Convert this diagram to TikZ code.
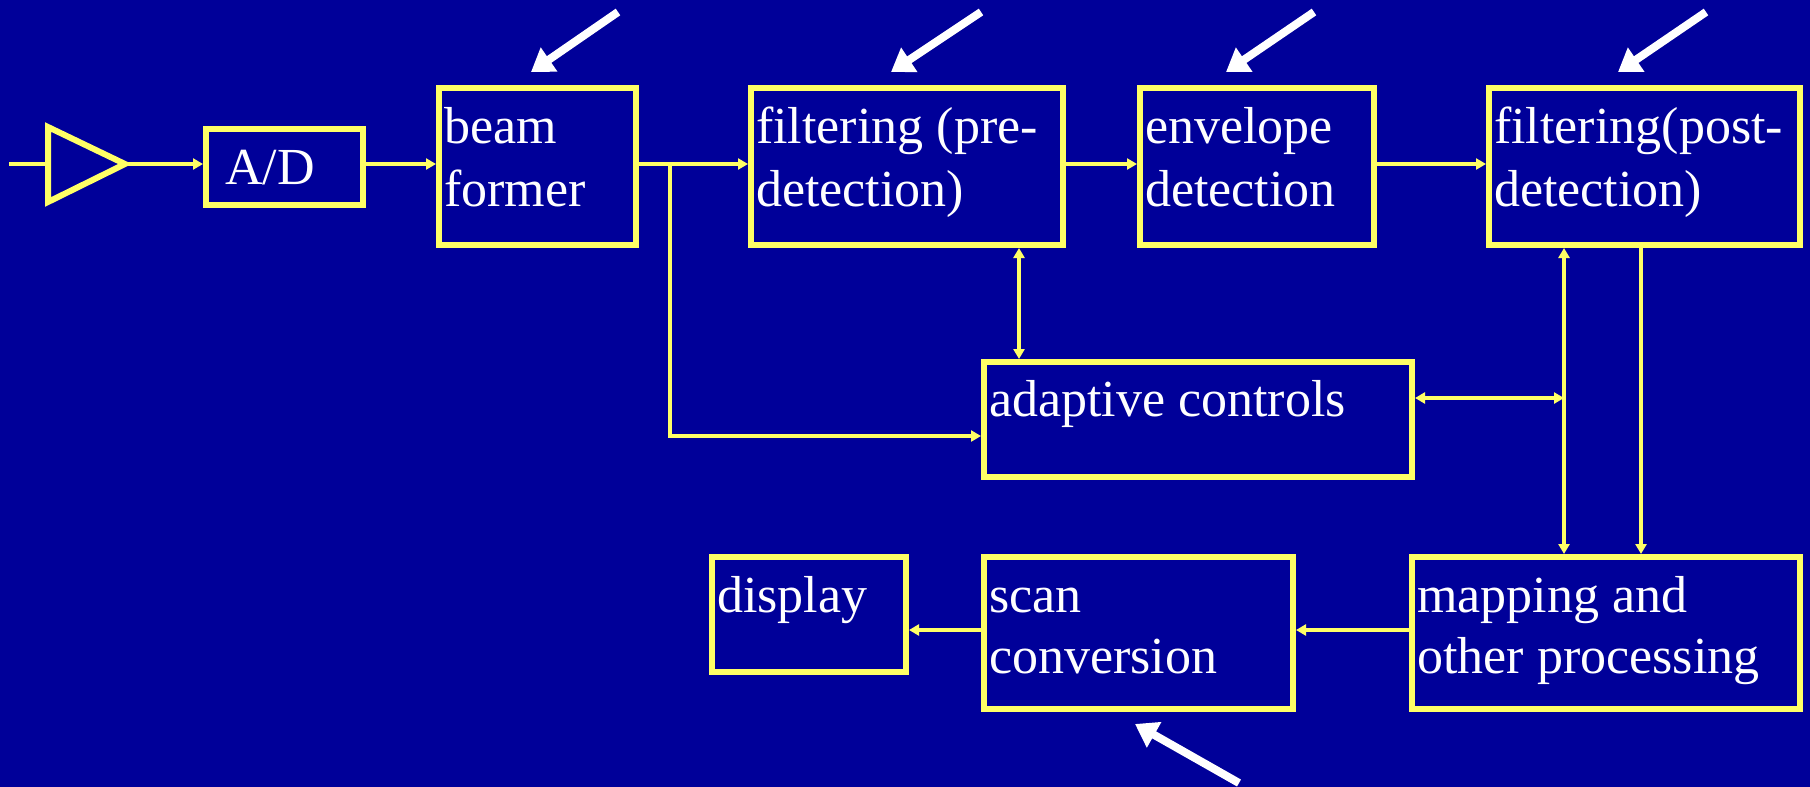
\documentclass[tikz,border=0pt]{standalone}
\usepackage{fontspec}
\setmainfont{Liberation Serif}
\usetikzlibrary{arrows.meta,calc}
\definecolor{bgblue}{RGB}{0,0,153}
\definecolor{lineyellow}{RGB}{255,255,102}
\begin{document}
\begin{tikzpicture}[x=1pt,y=-1pt,
  blk/.style={draw=lineyellow,line width=6pt,rectangle,inner sep=0pt,anchor=north west},
  lbl/.style={text=white,font=\fontsize{52}{62}\selectfont,inner sep=0pt,anchor=base west},
  wire/.style={draw=lineyellow,line width=4.5pt},
  flow/.style={wire,-{Triangle[length=10pt,width=11pt]}},
  both/.style={wire,{Triangle[length=10pt,width=11pt]}-{Triangle[length=10pt,width=11pt]}},
  pointer/.style={draw=white,line width=8pt,-{Triangle[length=22pt,width=28pt]}}]
  % background
  \fill[bgblue] (0,0) rectangle (1810,787);
  \useasboundingbox (0,0) rectangle (1810,787);

  % blocks (size = width x height)
  \newcommand{\blockat}[5]{\node[blk,minimum width=#4pt,minimum height=#5pt] (#1) at (#2,#3) {};}
  \blockat{ad}{203}{126}{157}{76}
  \blockat{beam}{436}{85}{197}{157}
  \blockat{fpre}{748}{85}{312}{157}
  \blockat{env}{1137}{85}{234}{157}
  \blockat{fpost}{1486}{85}{311}{157}
  \blockat{adapt}{981}{359}{428}{115}
  \blockat{map}{1409}{554}{388}{152}
  \blockat{scan}{981}{554}{309}{152}
  \blockat{disp}{709}{554}{194}{115}

  % labels
  \node[lbl] (tad) at ($(ad.north west)+(22,58)$) {A/D};
  \node[lbl] (tbeam1) at ($(beam.north west)+(8,58)$) {beam};
  \node[lbl] (tbeam2) at ($(beam.north west)+(8,121)$) {former};
  \node[lbl] (tfpre1) at ($(fpre.north west)+(8,58)$) {filtering (pre-};
  \node[lbl] (tfpre2) at ($(fpre.north west)+(8,121)$) {detection)};
  \node[lbl] (tenv1) at ($(env.north west)+(8,58)$) {envelope};
  \node[lbl] (tenv2) at ($(env.north west)+(8,121)$) {detection};
  \node[lbl] (tfpost1) at ($(fpost.north west)+(8,58)$) {filtering(post-};
  \node[lbl] (tfpost2) at ($(fpost.north west)+(8,121)$) {detection)};
  \node[lbl] (tadapt) at ($(adapt.north west)+(8,57)$) {adaptive controls};
  \node[lbl] (tmap1) at ($(map.north west)+(8,58)$) {mapping and};
  \node[lbl] (tmap2) at ($(map.north west)+(8,119)$) {other processing};
  \node[lbl] (tscan1) at ($(scan.north west)+(8,58)$) {scan};
  \node[lbl] (tscan2) at ($(scan.north west)+(8,119)$) {conversion};
  \node[lbl] (tdisp) at ($(disp.north west)+(8,58)$) {display};

  % amplifier
  \coordinate (ampL) at (48,164);
  \coordinate (ampT) at (125,164);
  \coordinate (inp) at (9,164);
  \draw[draw=lineyellow,line width=6pt,line join=miter] (48,127) -- (ampT) -- (48,202) -- cycle;
  \draw[wire] (inp) -- (ampL);

  % signal chain
  \draw[flow] (ampT) -- (ad.west |- ampT);
  \draw[flow] (ad.east |- ampT) -- (beam.west |- ampT);
  \draw[flow] (beam.east |- ampT) -- (fpre.west |- ampT);
  \draw[flow] (fpre.east |- ampT) -- (env.west |- ampT);
  \draw[flow] (env.east |- ampT) -- (fpost.west |- ampT);

  % branch to adaptive controls
  \coordinate (br) at (670,164);
  \coordinate (brd) at (670,436);
  \draw[flow,line join=miter] (br) -- (brd) -- (adapt.west |- brd);

  % links to adaptive controls
  \draw[both] (fpre.south -| 1019,0) -- (adapt.north -| 1019,0);
  \coordinate (tap) at (1564,398);
  \draw[both] (adapt.east |- tap) -- (tap);

  % post-detection to mapping
  \draw[both] (fpost.south -| tap) -- (map.north -| tap);
  \draw[flow] (fpost.south -| 1641,0) -- (map.north -| 1641,0);

  % back end
  \draw[flow] (map.west |- 0,630) -- (scan.east |- 0,630);
  \draw[flow] (scan.west |- 0,630) -- (disp.east |- 0,630);

  % pointers
  \coordinate (p1s) at (618,12);  \coordinate (p1e) at (531,72);
  \coordinate (p2s) at (981,12);  \coordinate (p2e) at (891,72);
  \coordinate (p3s) at (1314,12); \coordinate (p3e) at (1226,72);
  \coordinate (p4s) at (1706,12); \coordinate (p4e) at (1618,72);
  \coordinate (p5s) at (1239,783); \coordinate (p5e) at (1135,724);
  \draw[pointer] (p1s) -- (p1e);
  \draw[pointer] (p2s) -- (p2e);
  \draw[pointer] (p3s) -- (p3e);
  \draw[pointer] (p4s) -- (p4e);
  \draw[pointer] (p5s) -- (p5e);
\end{tikzpicture}
\end{document}
